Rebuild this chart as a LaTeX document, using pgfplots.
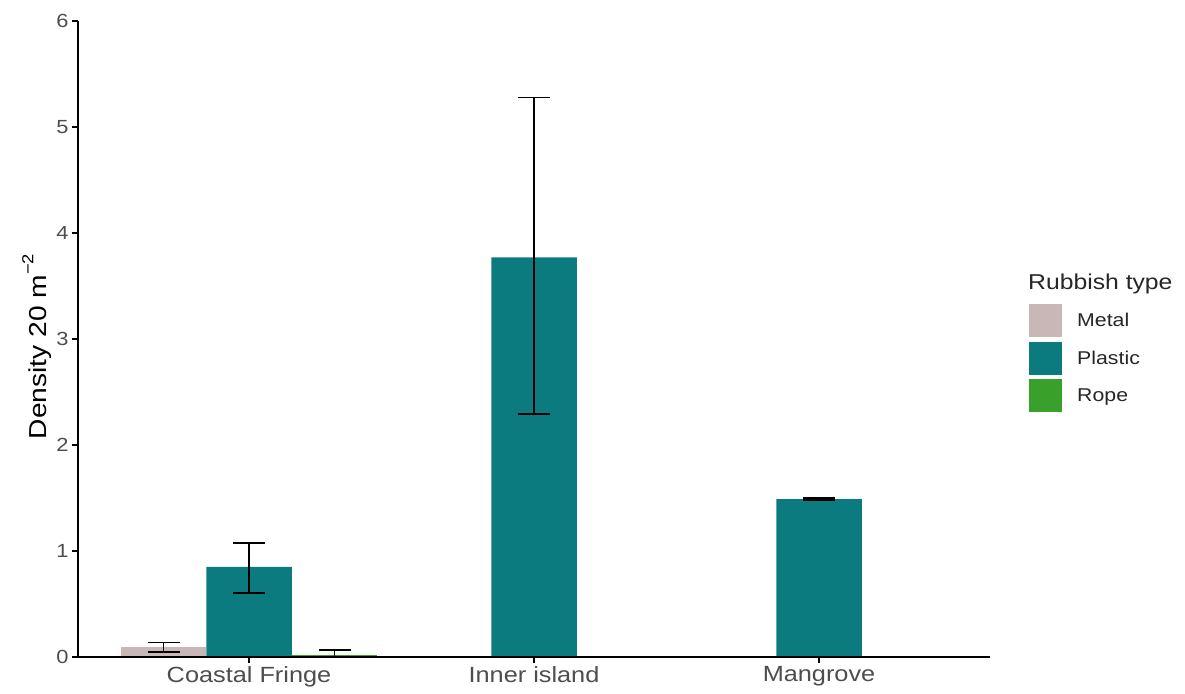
\documentclass[border=0pt]{standalone}
\usepackage{pgfplots}
\pgfplotsset{compat=1.18}
\usepackage{fontspec}
\setmainfont{Liberation Sans}[FakeStretch=1.15]
\definecolor{metal}{HTML}{C9B6B6}
\definecolor{plastic}{HTML}{0B7B80}
\definecolor{rope}{HTML}{3AA02C}
\definecolor{ticklab}{HTML}{4D4D4D}
\begin{document}
\begin{tikzpicture}
\useasboundingbox (0pt,0pt) rectangle (1185pt,693pt);
\begin{axis}[
  at={(78pt,36pt)}, anchor=south west,
  scale only axis, width=912pt, height=636pt,
  xmin=0.4, xmax=3.6, ymin=0, ymax=6,
  axis x line*=bottom, axis y line*=left,
  axis line style={line width=1.6pt, black, -},
  axis on top,
  xtick={1,2,3}, xticklabels={Coastal Fringe, Inner island, Mangrove},
  ytick={0,1,2,3,4,5,6},
  tick align=outside, major tick length=6pt,
  tick style={line width=1.4pt, black},
  /pgf/number format/assume math mode=true,
  x tick label style={font=\fontsize{22}{24}\selectfont, text=ticklab},
  y tick label style={font=\fontsize{19}{20}\selectfont, text=ticklab},
  every axis y label/.style={at={(axis description cs:-0.045,0.488)}, rotate=90, anchor=center},
  ylabel={\fontsize{24.5}{26}\selectfont Density 20 m\raisebox{0.55em}{\fontsize{16}{16}\selectfont −2}},
  legend style={at={(rel axis cs:1.0428,0.555)}, anchor=north west, draw=none, fill=none,
    font=\fontsize{18.5}{20}\selectfont, text=black!85, row sep=4.5pt, column sep=15pt,
    inner sep=0pt, nodes={inner sep=0pt}},
  legend cell align=left,
  error bars/error bar style={line width=1.6pt, black},
  error bars/error mark=|,
  error bars/error mark options={line width=1.6pt, mark size=16pt, black},
]
% dodged positions: Metal at x-0.3, Plastic at x, Rope at x+0.3
\addplot[ybar, bar width=85.5pt, bar shift=0pt, fill=metal, draw=none,
  error bars/.cd, y dir=both, y explicit,
  /pgfplots/legend image code/.code={\fill[metal] (0pt,-16.5pt) rectangle (33pt,16.5pt);}]
  coordinates {(0.7,0.09) +- (0,0.045)};
\addlegendentry{Metal}
\addplot[ybar, bar width=85.5pt, bar shift=0pt, fill=plastic, draw=none,
  error bars/.cd, y dir=both, y explicit,
  /pgfplots/legend image code/.code={\fill[plastic] (0pt,-16.5pt) rectangle (33pt,16.5pt);}]
  coordinates {(1,0.85) += (0,0.225) -= (0,0.246)
               (2,3.77) += (0,1.51) -= (0,1.48)
               (3,1.49) +- (0,0.01)};
\addlegendentry{Plastic}
\addplot[ybar, bar width=85.5pt, bar shift=0pt, fill=rope, draw=none,
  error bars/.cd, y dir=both, y explicit,
  /pgfplots/legend image code/.code={\fill[rope] (0pt,-16.5pt) rectangle (33pt,16.5pt);}]
  coordinates {(1.3,0.02) +- (0,0.045)};
\addlegendentry{Rope}
\end{axis}
\node[anchor=west, font=\fontsize{21.5}{23}\selectfont, text=black!85, inner sep=0pt] at (1028pt,409pt) {Rubbish type};
\end{tikzpicture}
\end{document}
